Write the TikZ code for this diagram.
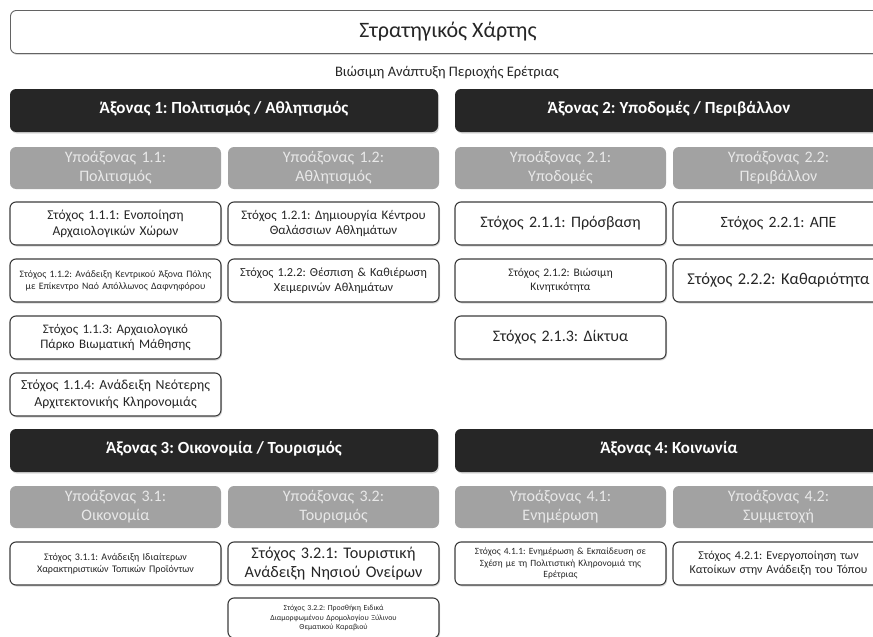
\documentclass[tikz,border=0pt]{standalone}
\usepackage{fontspec}
\setmainfont{Carlito}
\frenchspacing
\usetikzlibrary{positioning,shadows}
\newcommand\gfont[1]{\fontsize{#1pt}{\dimexpr#1pt*6/5\relax}\selectfont}
\definecolor{axisfill}{HTML}{262626}
\definecolor{subfill}{HTML}{A2A2A2}
\definecolor{subtext}{HTML}{E8E8E8}
\definecolor{goalline}{HTML}{3C3C3C}

\begin{document}
\begin{tikzpicture}[x=1pt, y=-1pt,
        node distance=14pt and 7pt,
        mapbox/.style={draw=goalline!80, fill=white, rounded corners=6pt, line width=0.9pt, minimum width=875pt, minimum height=43pt, inner sep=0pt, font=\gfont{22}, text=black!85, drop shadow={shadow xshift=1pt, shadow yshift=-1.5pt, opacity=0.3}},
        axisbox/.style={fill=axisfill, rounded corners=6pt, minimum width=428pt, minimum height=43pt, inner sep=0pt, outer sep=0pt, text height=0.84em, text depth=0.2em, text=white, font=\gfont{17}\bfseries, drop shadow={shadow xshift=1pt, shadow yshift=-1.5pt, opacity=0.3}},
        subbox/.style={fill=subfill, rounded corners=6pt, minimum width=211pt, minimum height=42pt, text width=205pt, inner sep=0pt, outer sep=0pt, align=center, text=subtext, font=\gfont{16}},
        goal/.style={draw=goalline, fill=white, line width=1.1pt, rounded corners=6pt, minimum width=211pt, minimum height=43pt, text width=209pt, inner sep=0pt, outer sep=0pt, align=center, text=black!85, font=\gfont{#1}, drop shadow={shadow xshift=1pt, shadow yshift=-1.5pt, opacity=0.3}},
        goal/.default=12]
    \useasboundingbox (0,0) rectangle (873,637);
    \clip (0,0) rectangle (873,637);

    \node[mapbox, anchor=north west] (map) at (10,10) {Στρατηγικός Χάρτης};
    \node[font=\gfont{14.5}, text=black!85] (vision) at (447,73) {Βιώσιμη Ανάπτυξη Περιοχής Ερέτριας};

    % axis 1 and 2
    \node[axisbox, anchor=north west] (A1) at (10,89) {Άξονας 1: Πολιτισμός / Αθλητισμός};
    \node[axisbox, anchor=north west] (A2) at (455,89) {Άξονας 2: Υποδομές / Περιβάλλον};

    \node[subbox, below=15pt of A1.south west, anchor=north west] (S11) {Υποάξονας 1.1:\\Πολιτισμός};
    \node[subbox, right=of S11] (S12) {Υποάξονας 1.2:\\Αθλητισμός};
    \node[subbox, below=15pt of A2.south west, anchor=north west] (S21) {Υποάξονας 2.1:\\Υποδομές};
    \node[subbox, right=of S21] (S22) {Υποάξονας 2.2:\\Περιβάλλον};

    \node[goal=13.5, below=13pt of S11] (G111) {Στόχος 1.1.1: Ενοποίηση\\Αρχαιολογικών Χώρων};
    \node[goal=9.8, below=of G111] (G112) {Στόχος 1.1.2: Ανάδειξη Κεντρικού Άξονα Πόλης\\με Επίκεντρο Ναό Απόλλωνος Δαφνηφόρου};
    \node[goal=13, below=of G112] (G113) {Στόχος 1.1.3: Αρχαιολογικό\\Πάρκο Βιωματική Μάθησης};
    \node[goal=13.8, below=of G113] (G114) {Στόχος 1.1.4: Ανάδειξη Νεότερης\\Αρχιτεκτονικής Κληρονομιάς};
    \node[goal=13, right=of G111] (G121) {Στόχος 1.2.1: Δημιουργία Κέντρου\\Θαλάσσιων Αθλημάτων};
    \node[goal=12.3, right=of G112] (G122) {Στόχος 1.2.2: Θέσπιση \& Καθιέρωση\\Χειμερινών Αθλημάτων};

    \node[goal=16, below=13pt of S21] (G211) {Στόχος 2.1.1: Πρόσβαση};
    \node[goal=11.5, below=of G211] (G212) {Στόχος 2.1.2: Βιώσιμη\\Κινητικότητα};
    \node[goal=16, below=of G212] (G213) {Στόχος 2.1.3: Δίκτυα};
    \node[goal=15.7, right=of G211] (G221) {Στόχος 2.2.1: ΑΠΕ};
    \node[goal=16.5, right=of G212] (G222) {Στόχος 2.2.2: Καθαριότητα};

    % axis 3 and 4
    \node[axisbox, below=13pt of G114.south west, anchor=north west] (A3) {Άξονας 3: Οικονομία / Τουρισμός};
    \node[axisbox, anchor=north west] (A4) at (A3.north west -| A2.west) {Άξονας 4: Κοινωνία};

    \node[subbox, below=14pt of A3.south west, anchor=north west] (S31) {Υποάξονας 3.1:\\Οικονομία};
    \node[subbox, right=of S31] (S32) {Υποάξονας 3.2:\\Τουρισμός};
    \node[subbox, below=14pt of A4.south west, anchor=north west] (S41) {Υποάξονας 4.1:\\Ενημέρωση};
    \node[subbox, right=of S41] (S42) {Υποάξονας 4.2:\\Συμμετοχή};

    \node[goal=10.1, below=of S31] (G311) {Στόχος 3.1.1: Ανάδειξη Ιδιαίτερων\\Χαρακτηριστικών Τοπικών Προϊόντων};
    \node[goal=16.2, right=of G311] (G321) {Στόχος 3.2.1: Τουριστική\\Ανάδειξη Νησιού Ονείρων};
    \node[goal=7.8, minimum height=40pt, below=13pt of G321] (G322) {Στόχος 3.2.2: Προσθήκη Ειδικά\\Διαμορφωμένου Δρομολογίου Ξύλινου\\Θεματικού Καραβιού};
    \node[goal=9.5, below=of S41] (G411) {Στόχος 4.1.1: Ενημέρωση \& Εκπαίδευση σε\\Σχέση με τη Πολιτιστική Κληρονομιά της\\Ερέτριας};
    \node[goal=12, right=of G411] (G421) {Στόχος 4.2.1: Ενεργοποίηση των\\Κατοίκων στην Ανάδειξη του Τόπου};
\end{tikzpicture}
\end{document}
